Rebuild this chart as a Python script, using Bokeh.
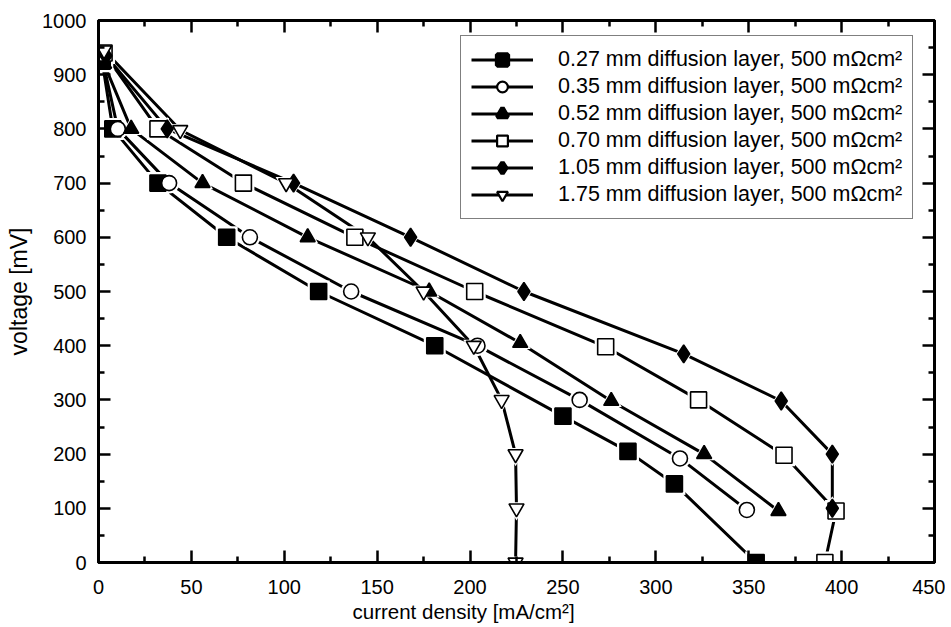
from bokeh.plotting import figure
from bokeh.models import (Range1d, Legend, LegendItem, FixedTicker, LinearAxis,
                          CustomJSTickFormatter, Title)
from bokeh.embed import file_html
from bokeh.resources import INLINE

# ---- data ----
labels = [
    "0.27 mm diffusion layer, 500 mΩcm²",
    "0.35 mm diffusion layer, 500 mΩcm²",
    "0.52 mm diffusion layer, 500 mΩcm²",
    "0.70 mm diffusion layer, 500 mΩcm²",
    "1.05 mm diffusion layer, 500 mΩcm²",
    "1.75 mm diffusion layer, 500 mΩcm²",
]
x_title = "current density [mA/cm²]"
y_title = "voltage [mV]"

x_027 = [2, 7.7, 32, 69, 118.5, 181, 250, 285, 310, 354]
y_027 = [925, 800, 700, 600, 500, 400, 270, 205, 145, 0]

x_035 = [2, 10.4, 38, 81.5, 136, 204, 259, 313, 349]
y_035 = [930, 800, 700, 600, 500, 400, 300, 192, 97]

x_052 = [3, 17.6, 56, 112.6, 178, 227, 276, 326, 366]
y_052 = [920, 800, 700, 600, 500, 405, 298, 200, 95]

x_070 = [3, 32, 78, 138, 202.5, 273, 323, 369, 397, 391]
y_070 = [940, 800, 700, 600, 500, 398, 300, 198, 95, 0]

x_105 = [4, 37, 105, 168, 229, 315, 367.5, 395, 395]
y_105 = [935, 800, 700, 600, 500, 385, 298, 200, 100]

x_175 = [3, 44, 101, 145, 175, 202, 217, 224.5, 225, 224.5]
y_175 = [945, 798, 700, 600, 500, 400, 300, 200, 100, 0]

x_ticks = [0, 50, 100, 150, 200, 250, 300, 350, 400, 450]
x_minor = [25, 75, 125, 175, 225, 275, 325, 375, 425]
y_ticks = [0, 100, 200, 300, 400, 500, 600, 700, 800, 900, 1000]
y_minor = [50, 150, 250, 350, 450, 550, 650, 750, 850, 950]

series = [
    (x_027, y_027, "square", "black", 16),
    (x_035, y_035, "circle", "white", 15),
    (x_052, y_052, "triangle", "black", 15),
    (x_070, y_070, "square", "white", 16),
    (x_105, y_105, "diamond", "black", 18),
    (x_175, y_175, "inverted_triangle", "white", 15),
]

FONT = "Liberation Sans"

p = figure(width=945, height=627,
           x_range=Range1d(0, 450), y_range=Range1d(0, 1000),
           output_backend="svg", toolbar_location=None,
           min_border_left=98, min_border_right=11,
           min_border_top=20, min_border_bottom=65,
           x_axis_location=None, y_axis_location=None)
p.xgrid.visible = False
p.ygrid.visible = False
p.outline_line_color = "black"
p.outline_line_width = 3
p.background_fill_color = "white"
p.border_fill_color = "white"


def style_axis(ax, labels_on):
    ax.axis_line_width = 3
    ax.axis_line_color = "black"
    ax.major_tick_in = 12
    ax.major_tick_out = 0
    ax.minor_tick_in = 6
    ax.minor_tick_out = 0
    ax.major_tick_line_width = 2.5
    ax.minor_tick_line_width = 2.5
    ax.major_tick_line_color = "black"
    ax.minor_tick_line_color = "black"
    ax.major_label_text_font = FONT
    ax.major_label_text_color = "black"
    ax.axis_label_text_font = FONT
    ax.axis_label_text_font_size = "23px"
    ax.axis_label_text_font_style = "normal"
    ax.axis_label_text_color = "black"
    if labels_on:
        ax.major_label_text_font_size = "20px"
    else:
        ax.major_label_text_font_size = "1px"
        ax.major_label_standoff = 0
        ax.formatter = CustomJSTickFormatter(code="return ''")


xt = FixedTicker(ticks=x_ticks, minor_ticks=x_minor)
yt = FixedTicker(ticks=y_ticks, minor_ticks=y_minor)

xb = LinearAxis(ticker=xt)
style_axis(xb, True)
xb.major_label_standoff = 17
p.add_layout(xb, "below")

yl = LinearAxis(ticker=yt, axis_label=y_title)
style_axis(yl, True)
yl.major_label_standoff = 12
yl.axis_label_standoff = 7
p.add_layout(yl, "left")

xa = LinearAxis(ticker=xt)
style_axis(xa, False)
p.add_layout(xa, "above")

yr = LinearAxis(ticker=yt)
style_axis(yr, False)
p.add_layout(yr, "right")

# x axis title: in the reference it sits left of the frame centre
xtitle = Title(text=x_title, align="left", offset=254, standoff=3,
               text_font=FONT, text_font_size="20.5px",
               text_font_style="normal", text_color="black")
p.add_layout(xtitle, "below")

# lines first
line_rs = []
for xs, ys, m, fill, sz in series:
    line_rs.append(p.line(xs, ys, line_color="black", line_width=3))

# white halos so the lines stop short of the symbols
for xs, ys, m, fill, sz in series:
    p.scatter(xs, ys, marker=m, size=sz + 6, fill_color="white",
              line_color=None)

# symbols
for xs, ys, m, fill, sz in series:
    p.scatter(xs, ys, marker=m, size=sz, fill_color=fill,
              line_color="black", line_width=1.6)

# legend-only symbol renderers (hidden in the plot, bolder outline)
legend_marks = []
for xs, ys, m, fill, sz in series:
    lw = 4.5 if fill == "black" else 2.2
    r = p.scatter(xs, ys, marker=m, size=sz, fill_color=fill,
                  line_color="black", line_width=lw)
    r.visible = False
    legend_marks.append(r)

items = [LegendItem(label=lab, renderers=[lr, mr])
         for lab, lr, mr in zip(labels, line_rs, legend_marks)]
legend = Legend(items=items, location=(362, 343))
legend.margin = 0
legend.padding = 10
legend.spacing = 0
legend.glyph_width = 62
legend.glyph_height = 27
legend.label_height = 27
legend.label_standoff = 25
legend.label_text_font = FONT
legend.label_text_font_size = "21.5px"
legend.label_text_color = "black"
legend.border_line_color = "black"
legend.border_line_width = 1.5
legend.background_fill_color = "white"
legend.background_fill_alpha = 1.0
legend.inactive_fill_alpha = 0.0
p.add_layout(legend, "center")

open("out.html", "w").write(file_html(p, INLINE))
